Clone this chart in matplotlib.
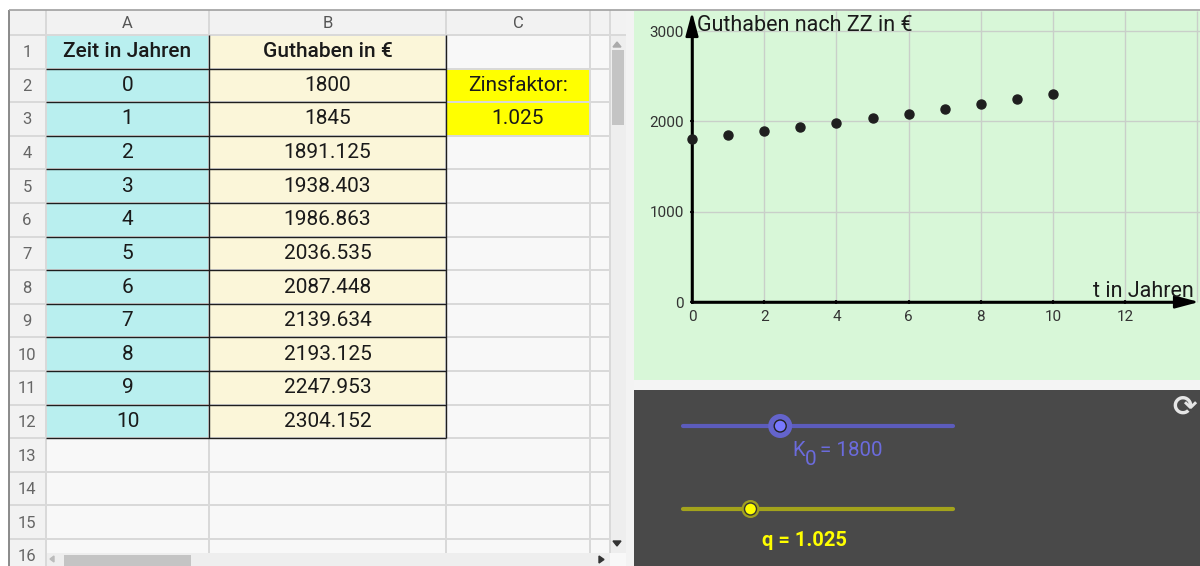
import matplotlib
matplotlib.use('Agg')
import matplotlib.pyplot as plt
from matplotlib.patches import Rectangle, Circle, Polygon

# ---------------- data ----------------
zeit = list(range(11))
guthaben = [1800, 1845, 1891.125, 1938.403, 1986.863, 2036.535,
            2087.448, 2139.634, 2193.125, 2247.953, 2304.152]
col_headers = ['A', 'B', 'C']
header_a = 'Zeit in Jahren'
header_b = 'Guthaben in €'
zins_label = 'Zinsfaktor:'
K0 = 1800
q = 1.025
K0_range = (0, 5000)
q_range = (1.0, 1.1)
x_ticks = [0, 2, 4, 6, 8, 10, 12]
y_ticks = [0, 1000, 2000, 3000]
x_label = 't in Jahren'
y_label = 'Guthaben nach ZZ in €'

FONT = 'Roboto'
W, H = 1200, 566


def fmt(v):
    s = ('%.3f' % v).rstrip('0').rstrip('.')
    return s


fig = plt.figure(figsize=(W / 100, H / 100), dpi=100)
bg = fig.add_axes([0, 0, 1, 1])
bg.set_xlim(0, W)
bg.set_ylim(H, 0)
bg.axis('off')


def rect(x0, y0, x1, y1, fc, z=1):
    bg.add_patch(Rectangle((x0, y0), x1 - x0, y1 - y0, facecolor=fc,
                           edgecolor='none', zorder=z))


def hline(y, x0, x1, c, lw, z=3, cap='butt'):
    bg.plot([x0, x1], [y, y], color=c, lw=lw, zorder=z, solid_capstyle=cap)


def vline(x, y0, y1, c, lw, z=3):
    bg.plot([x, x], [y0, y1], color=c, lw=lw, zorder=z, solid_capstyle='butt')


# ---------------- spreadsheet ----------------
L, T, RH, ROWH = 9, 10, 35, 33.6
XB = [46, 209, 446, 590, 610]
NROWS = 16
ybot = 553

rect(0, 0, W, H, 'white', z=0)
rect(L, T, 610, ybot, '#f8f8f8')
rect(L, T, 626, RH, '#f2f2f2')
rect(L, T, 46, H, '#f2f2f2')


def row_top(k):
    return RH + (k - 1) * ROWH


# coloured cells rows 1..12
for k in range(1, 13):
    rect(XB[0], row_top(k), XB[1], row_top(k + 1), '#b9efef', z=1.5)
    rect(XB[1], row_top(k), XB[2], row_top(k + 1), '#fbf6d9', z=1.5)
for k in (2, 3):
    rect(XB[2], row_top(k), XB[3], row_top(k + 1), '#ffff00', z=1.5)

# light grid
GRID = '#d9d9d9'
for k in range(0, NROWS + 1):
    y = RH + k * ROWH
    if y < ybot:
        hline(y, L, 610, GRID, 1.4)
for x in XB[1:]:
    vline(x, T, ybot, GRID, 1.4)
vline(XB[0], T, H, GRID, 1.4)
hline(RH, L, 626, GRID, 1.4)

# dark table borders
DARK = '#1e1e1e'
for k in range(2, 14):
    hline(row_top(k), XB[0], XB[2], DARK, 1.0, z=4)
vline(XB[1], row_top(1), row_top(13), DARK, 1.0, z=4)
vline(XB[2], row_top(1), row_top(13), DARK, 1.0, z=4)

# headers
cx = [(XB[0] + XB[1]) / 2, (XB[1] + XB[2]) / 2, (XB[2] + XB[3]) / 2]
for c, lab in zip(cx, col_headers):
    bg.text(c, 23, lab, ha='center', va='center', fontsize=12,
            color='#555555', fontfamily=FONT, zorder=5)
for k in range(1, NROWS + 1):
    bg.text(27, row_top(k) + ROWH / 2 + 1, str(k), ha='center', va='center',
            fontsize=12, color='#666666', fontfamily=FONT, zorder=5)

# cell texts
TXT = '#1a1a1a'
FS = 15
bg.text(cx[0], row_top(1) + ROWH / 2, header_a, ha='center', va='center',
        fontsize=FS, fontweight='medium', color=TXT, fontfamily=FONT, zorder=5)
bg.text(cx[1], row_top(1) + ROWH / 2, header_b, ha='center', va='center',
        fontsize=FS, fontweight='medium', color=TXT, fontfamily=FONT, zorder=5)
for i, (t, g) in enumerate(zip(zeit, guthaben)):
    yc = row_top(i + 2) + ROWH / 2
    bg.text(cx[0], yc, str(t), ha='center', va='center', fontsize=FS,
            color=TXT, fontfamily=FONT, zorder=5)
    bg.text(cx[1], yc, fmt(g), ha='center', va='center', fontsize=FS,
            color=TXT, fontfamily=FONT, zorder=5)
bg.text(cx[2], row_top(2) + ROWH / 2, zins_label, ha='center', va='center',
        fontsize=FS, color=TXT, fontfamily=FONT, zorder=5)
bg.text(cx[2], row_top(3) + ROWH / 2, fmt(q), ha='center', va='center',
        fontsize=FS, color=TXT, fontfamily=FONT, zorder=5)

# scrollbars
rect(610, RH, 626, ybot, '#eeeeee', z=2)
rect(612, 50, 624, 125, '#c4c4c4', z=2.5)
bg.add_patch(Polygon([(613, 47), (621, 47), (617, 42)], color='#aaaaaa', zorder=3))
bg.add_patch(Polygon([(613, 541), (621, 541), (617, 546)], color='#333333', zorder=3))
rect(46, ybot, 610, H, '#eeeeee', z=2)
rect(610, ybot, 626, H, '#f8f8f8', z=2)
rect(64, 555, 191, H, '#c4c4c4', z=2.5)
bg.add_patch(Polygon([(54, 556), (54, 562), (50, 559)], color='#bbbbbb', zorder=3))
bg.add_patch(Polygon([(599, 556), (599, 563), (604, 559.5)], color='#333333', zorder=3))
rect(626, T, 634, H, '#f3f3f3', z=2)

# outer frame
vline(L, T, H, '#8a8a8a', 1.4, z=6)
hline(T, L, W, '#a0a0a0', 1.2, z=6)

# ---------------- slider panel ----------------
rect(634, 380, W, 390, '#f4f4f4', z=2)
rect(634, 390, W, H, '#494949', z=2)

SX0, SX1 = 683, 953
kx = SX0 + (K0 - K0_range[0]) / (K0_range[1] - K0_range[0]) * (SX1 - SX0)
qx = SX0 + (q - q_range[0]) / (q_range[1] - q_range[0]) * (SX1 - SX0)

hline(426, SX0, SX1, '#5c5cbc', 3.0, z=3, cap='round')
bg.add_patch(Circle((kx, 426), 12, facecolor='#6464cc', edgecolor='none', zorder=4))
bg.add_patch(Circle((kx, 426), 6, facecolor='#7878ff', edgecolor='#222222', lw=1, zorder=5))
KC = '#6b6bdc'
bg.text(792, 456, 'K', ha='left', va='baseline', fontsize=14.5, color=KC, fontfamily=FONT, zorder=5)
bg.text(805, 465, '0', ha='left', va='baseline', fontsize=15, color=KC, fontfamily=FONT, zorder=5)
bg.text(820, 456, '= ' + str(K0), ha='left', va='baseline', fontsize=14.8, color=KC,
        fontfamily=FONT, zorder=5)

hline(509, SX0, SX1, '#a3a31c', 3.0, z=3, cap='round')
bg.add_patch(Circle((qx, 509), 9, facecolor='#a0a020', edgecolor='none', zorder=4))
bg.add_patch(Circle((qx, 509), 6, facecolor='#ffff00', edgecolor='#333333', lw=1, zorder=5))
bg.text(762, 546, 'q = ' + fmt(q), ha='left', va='baseline', fontsize=14.5,
        fontweight='bold', color='#ffff00', fontfamily=FONT, zorder=5)

bg.text(1185, 408, '⟳', ha='center', va='center', fontsize=21, color='#e6e6e6',
        fontfamily='DejaVu Sans', fontweight='bold', zorder=5)

# ---------------- graph ----------------
PX_X = 36.1     # px per year
PX_Y = 0.0903   # px per euro
OX, OY = 692, 302
GL, GR, GT, GB = 634, W, 11, 380
ax = fig.add_axes([GL / W, (H - GB) / H, (GR - GL) / W, (GB - GT) / H])
ax.set_facecolor('#d8f7d8')
ax.set_xlim((GL - OX) / PX_X, (GR - OX) / PX_X)
ax.set_ylim(-(GB - OY) / PX_Y, (OY - GT) / PX_Y)
xtip = (1199 - OX) / PX_X
ytip = (OY - 12) / PX_Y

gridc = '#c9cfc9'
ax.vlines(x_ticks[1:] + [14], 0, ax.get_ylim()[1], colors=gridc, lw=1, zorder=1)
ax.hlines(y_ticks[1:], 0, ax.get_xlim()[1], colors=gridc, lw=1, zorder=1)

for s in ('top', 'right'):
    ax.spines[s].set_visible(False)
ax.spines['left'].set_position(('data', 0))
ax.spines['bottom'].set_position(('data', 0))
ax.spines['left'].set_bounds(0, ytip - 100)
ax.spines['bottom'].set_bounds(0, xtip - 0.3)
for s in ('left', 'bottom'):
    ax.spines[s].set_linewidth(1.8)
    ax.spines[s].set_color('black')
ax.set_xticks(x_ticks)
ax.set_yticks(y_ticks)
ax.tick_params(direction='inout', length=3, width=1.5, color='#222222',
               labelcolor='#333333', labelsize=11, pad=4.5)
for lab in ax.get_xticklabels() + ax.get_yticklabels():
    lab.set_fontfamily(FONT)

head = dict(arrowstyle='-|>,head_length=0.9,head_width=0.24', color='black',
            lw=1.8, mutation_scale=16, shrinkA=0, shrinkB=0)
ax.annotate('', xy=(0, ytip), xytext=(0, 0), arrowprops=head, annotation_clip=False)
ax.annotate('', xy=(xtip, 0), xytext=(0, 0), arrowprops=head, annotation_clip=False)

ax.plot(zeit, guthaben, 'o', color='#1f1f1f', ms=6.5, zorder=5, clip_on=False)

ax.text((697 - OX) / PX_X, (OY - 31) / PX_Y, y_label, ha='left', va='baseline',
        fontsize=15.5, color='#1a1a1a', fontfamily=FONT, zorder=6)
ax.text((1093 - OX) / PX_X, (OY - 297) / PX_Y, x_label, ha='left', va='baseline',
        fontsize=15.5, color='#1a1a1a', fontfamily=FONT, zorder=6)

fig.savefig('out.png', dpi=100)
